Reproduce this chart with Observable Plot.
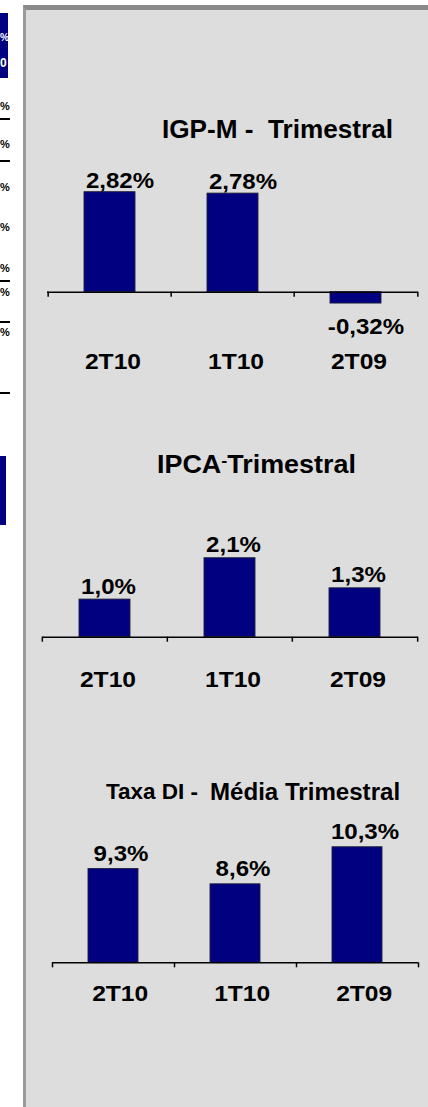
<!DOCTYPE html>
<html>
<head>
<meta charset="utf-8">
<script src="https://cdn.jsdelivr.net/npm/d3@7"></script>
<script src="https://cdn.jsdelivr.net/npm/@observablehq/plot@0.6"></script>
<style>
  html, body { margin: 0; padding: 0; background: #fff; overflow: hidden; }
  body { font-family: "Liberation Sans", Arial, sans-serif; }
  #page { position: relative; width: 428px; height: 1107px; overflow: hidden; }
  #strip { position: absolute; left: 0; top: 0; width: 22px; height: 1107px; }
  .box { position: absolute; background: #000080; }
  .frag { position: absolute; left: 0; font-weight: bold; font-size: 11px; line-height: 1; white-space: nowrap; color: #000; }
  .uline { position: absolute; left: 0; width: 10px; height: 2px; background: #000; }
  #panel { position: absolute; left: 23px; top: 5px; width: 405px; height: 1102px; background: #dddddd;
           border-top: 5px solid #8a8a8a; border-left: 3px solid #9a9a9a; box-sizing: border-box; }
  .chart { position: absolute; left: 0; }
  .title { position: absolute; font-weight: bold; color: #000; white-space: nowrap; line-height: 1; transform-origin: left center; }
</style>
</head>
<body>
<div id="page">
  <div id="strip">
    <div class="box" style="left:0;width:8px;top:13px;height:65px;">
      <div class="frag" style="color:#fff;top:20px;font-size:10px;">%</div>
      <div class="frag" style="color:#fff;top:44px;font-size:12px;">0</div>
    </div>
    <div class="frag" style="top:101px;">%</div>
    <div class="uline" style="top:118px;"></div>
    <div class="frag" style="top:139px;">%</div>
    <div class="uline" style="top:160px;"></div>
    <div class="frag" style="top:182px;">%</div>
    <div class="frag" style="top:222px;">%</div>
    <div class="frag" style="top:263px;">%</div>
    <div class="uline" style="top:280px;"></div>
    <div class="frag" style="top:287px;">%</div>
    <div class="uline" style="top:321px;"></div>
    <div class="frag" style="top:327px;">%</div>
    <div class="uline" style="top:392px;"></div>
    <div class="box" style="left:0;width:6px;top:456px;height:69px;"></div>
  </div>
  <div id="panel"></div>

  <div class="title" style="left:161.5px;top:117.4px;font-size:25.5px;transform:scaleX(1.025);">IGP-M -&nbsp; Trimestral</div>
  <div class="title" style="left:156.5px;top:452.4px;font-size:25.5px;transform:scaleX(1.055);">IPCA<span style="font-size:17px;position:relative;top:-7px;">-</span>Trimestral</div>
  <div class="title" style="left:106px;top:781px;font-size:22.5px;">Taxa DI -</div>
  <div class="title" style="left:210px;top:781px;font-size:23.5px;transform:scaleX(1.025);">Média Trimestral</div>

  <div id="c1" class="chart" style="top:150px;"></div>
  <div id="c2" class="chart" style="top:440px;"></div>
  <div id="c3" class="chart" style="top:770px;"></div>
</div>

<script>
// ---- Data ----
const igpmCats = ["2T10", "1T10", "2T09"];
const igpmValues = [2.82, 2.78, -0.32];

const ipcaCats = ["2T10", "1T10", "2T09"];
const ipcaValues = [1.0, 2.1, 1.3];

const diCats = ["2T10", "1T10", "2T09"];
const diValues = [9.3, 8.6, 10.3];
const diAxisMin = 5;

// ---- Chart builder ----
const W = 428;
const FONT = "Liberation Sans, Arial, sans-serif";
const STRETCH = 1.12;

function fmt(v, d) { return v.toFixed(d).replace(".", ",") + "%"; }

function makeChart(o) {
  const data = o.cats.map((c, i) => ({cat: c, value: o.values[i], label: fmt(o.values[i], o.decimals)}));
  const step = (W - o.ml - o.mr) / o.cats.length;
  const k = (o.yRange[0] - o.yRange[1]) / (o.yDomain[1] - o.yDomain[0]);
  const tickEnd = o.base - 5 / k;
  const last = [o.cats[o.cats.length - 1]];
  const textOpts = {fontFamily: FONT, fontWeight: "bold", fill: "#000"};
  const pos = data.filter(d => d.value >= o.base);
  const neg = data.filter(d => d.value < o.base);
  const svg = Plot.plot({
    width: W,
    height: o.height,
    marginLeft: o.ml,
    marginRight: o.mr,
    marginTop: 0,
    marginBottom: 0,
    style: {background: "transparent", overflow: "visible"},
    x: {type: "band", domain: o.cats, paddingInner: o.padIn, paddingOuter: o.padIn / 2, axis: null},
    y: {domain: o.yDomain, range: o.yRange, axis: null},
    marks: [
      Plot.barY(data, {x: "cat", y1: o.base, y2: "value", fill: "#000080", stroke: "#20203a", strokeWidth: 0.9}),
      Plot.ruleY([o.base], {stroke: "#000", strokeWidth: 1.6}),
      Plot.ruleX(o.cats, {x: d => d, y1: o.base, y2: tickEnd, dx: -step / 2, stroke: "#000", strokeWidth: 1.5}),
      Plot.ruleX(last, {x: d => d, y1: o.base, y2: tickEnd, dx: step / 2, stroke: "#000", strokeWidth: 1.5}),
      Plot.text(pos, {x: "cat", y: "value", text: "label", dx: o.valDx, dy: o.valDy, lineAnchor: "bottom", fontSize: 21.5, ...textOpts}),
      Plot.text(neg, {x: "cat", y: "value", text: "label", dx: o.valDx, dy: o.negDy, lineAnchor: "top", fontSize: 21.5, ...textOpts}),
      Plot.text(data, {x: "cat", y: () => o.base, text: "cat", dx: o.catDx, dy: o.catDy, lineAnchor: "bottom", fontSize: 22, ...textOpts})
    ]
  });
  svg.querySelectorAll("text").forEach(t => {
    const tr = t.getAttribute("transform") || "";
    t.setAttribute("transform", tr + ` scale(${STRETCH},1)`);
  });
  document.getElementById(o.id).appendChild(svg);
}

makeChart({
  id: "c1", cats: igpmCats, values: igpmValues, decimals: 2, base: 0,
  height: 240, ml: 47, mr: 10, padIn: 0.588,
  yDomain: [-1, 3.5], yRange: [141.7 + 35.46, 141.7 - 3.5 * 35.46],
  valDx: 10, valDy: -4.7, negDy: 15, catDx: 3, catDy: 76.6
});

makeChart({
  id: "c2", cats: ipcaCats, values: ipcaValues, decimals: 1, base: 0,
  height: 270, ml: 42, mr: 10, padIn: 0.591,
  yDomain: [0, 3], yRange: [196.7, 196.7 - 3 * 37.6],
  valDx: 3.5, valDy: -6, negDy: 15, catDx: 3, catDy: 50
});

makeChart({
  id: "c3", cats: diCats, values: diValues, decimals: 1, base: diAxisMin,
  height: 260, ml: 52, mr: 10, padIn: 0.59,
  yDomain: [diAxisMin, 12], yRange: [192.3, 192.3 - 7 * 21.8],
  valDx: 7.5, valDy: -8.5, negDy: 15, catDx: 6.7, catDy: 37.7
});
</script>
</body>
</html>
